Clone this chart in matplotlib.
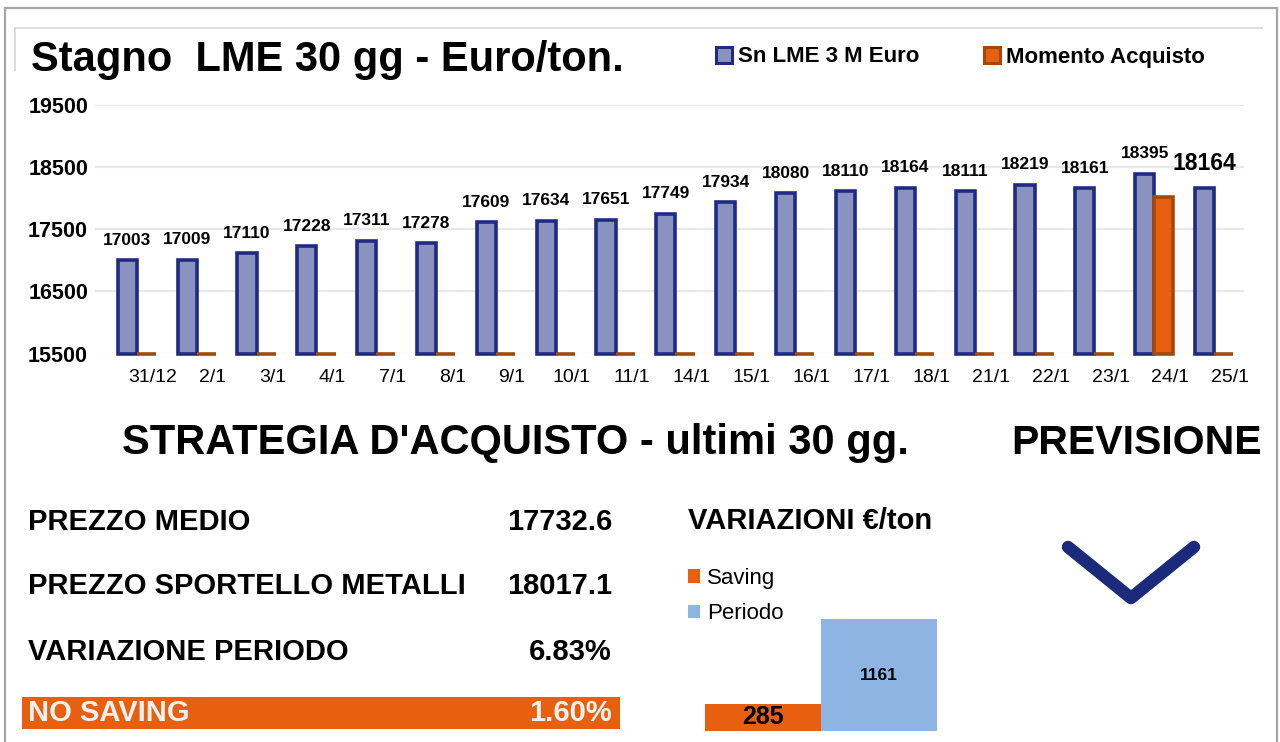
import numpy as np
import matplotlib
matplotlib.use("Agg")
import matplotlib.pyplot as plt
from matplotlib.patches import Patch, Rectangle
from matplotlib.lines import Line2D

plt.rcParams['font.family'] = ['Liberation Sans', 'DejaVu Sans']

# data
days = ['31/12', '2/1', '3/1', '4/1', '7/1', '8/1', '9/1', '10/1', '11/1', '14/1',
        '15/1', '16/1', '17/1', '18/1', '21/1', '22/1', '23/1', '24/1', '25/1']
sn_lme = [17003, 17009, 17110, 17228, 17311, 17278, 17609, 17634, 17651, 17749,
          17934, 18080, 18110, 18164, 18111, 18219, 18161, 18395, 18164]
momento = [0, 0, 0, 0, 0, 0, 0, 0, 0, 0, 0, 0, 0, 0, 0, 0, 0, 18017.1, 0]
y_ticks = [15500, 16500, 17500, 18500, 19500]

stat_labels = ['PREZZO MEDIO', 'PREZZO SPORTELLO METALLI', 'VARIAZIONE PERIODO']
stat_values = ['17732.6', '18017.1', '6.83%']
saving_label, saving_value = 'NO SAVING', '1.60%'

var_names = ['Saving', 'Periodo']
var_values = [285, 1161]

BLUE_FILL = '#8A92C0'
NAVY = '#1F2A85'
ORANGE = '#E8600F'
BROWN = '#A04A0C'
LIGHT_BLUE = '#8EB4E3'

W, H = 1280, 742
fig = plt.figure(figsize=(W / 100, H / 100), dpi=100)
fig.patch.set_facecolor('white')


def fx(px):
    return px / W


def fy(py):
    return 1 - py / H


# ---- main chart ----
ymin = y_ticks[0]
ax = fig.add_axes([fx(95), fy(353.5), fx(1244 - 95), (353.5 - 105) / H])
x = np.arange(len(days))
bw = 0.32
sn_h = [v - ymin for v in sn_lme]
mo_h = [max(v - ymin, 0) for v in momento]
ax.bar(x - bw / 2, sn_h, bw, bottom=ymin, color=BLUE_FILL, edgecolor=NAVY,
       linewidth=2.6, zorder=3, clip_on=False)
ax.bar(x + bw / 2, mo_h, bw, bottom=ymin, color=ORANGE, edgecolor=BROWN,
       linewidth=2.6, zorder=3, clip_on=False)

for i, v in enumerate(sn_lme):
    last = i == len(sn_lme) - 1
    ax.annotate(str(v), (x[i] - bw / 2, v), xytext=(0, 9), textcoords='offset points',
                ha='center', va='bottom', fontsize=16.5 if last else 12.5,
                fontweight='bold')

ax.set_xlim(-0.7, 18.5)
ax.set_ylim(ymin, y_ticks[-1])
ax.set_yticks(y_ticks)
ax.set_yticklabels([str(t) for t in y_ticks], fontsize=15.5, fontweight='bold')
# date labels sit a little right of each group in the original
ax.set_xticks(x + 0.27)
ax.set_xticklabels(days, fontsize=14)
ax.tick_params(axis='both', length=0)
ax.tick_params(axis='x', pad=11)
ax.tick_params(axis='y', pad=5)
ax.grid(axis='y', color='#E8E8E8', linewidth=1.6, zorder=0)
for s in ax.spines.values():
    s.set_visible(False)

fig.text(fx(31), fy(60), 'Stagno  LME 30 gg - Euro/ton.', fontsize=30,
         fontweight='bold', va='center', ha='left')

leg_handles = [Patch(facecolor=BLUE_FILL, edgecolor=NAVY, linewidth=2.2, label='Sn LME 3 M Euro'),
               Patch(facecolor=ORANGE, edgecolor=BROWN, linewidth=2.2, label='Momento Acquisto')]
fig.legend(handles=leg_handles, loc='center left', bbox_to_anchor=(fx(716), fy(57)),
           ncol=2, frameon=False, prop={'weight': 'bold', 'size': 16},
           handlelength=0.7, handleheight=0.7, handletextpad=0.3, columnspacing=2.9,
           borderaxespad=0, borderpad=0)

# ---- lower panel ----
fig.text(fx(515), fy(443), "STRATEGIA D'ACQUISTO - ultimi 30 gg.", fontsize=30,
         fontweight='bold', ha='center', va='center')
fig.text(fx(1262), fy(443), 'PREVISIONE', fontsize=29.5, fontweight='bold',
         ha='right', va='center')

row_y = [522, 586, 652]
for lab, val, yy in zip(stat_labels, stat_values, row_y):
    fig.text(fx(28), fy(yy), lab, fontsize=21, fontweight='bold', va='center')
    fig.text(fx(612), fy(yy), val, fontsize=21, fontweight='bold', va='center', ha='right')

fig.add_artist(Rectangle((fx(22), fy(729)), fx(620 - 22), (729 - 697) / H,
                         transform=fig.transFigure, facecolor=ORANGE, edgecolor='none'))
fig.text(fx(28), fy(713), saving_label, fontsize=21, fontweight='bold', va='center',
         color='#F2F2F2')
fig.text(fx(612), fy(713), saving_value, fontsize=21, fontweight='bold', va='center',
         ha='right', color='#F2F2F2')

fig.text(fx(688), fy(521), 'VARIAZIONI €/ton', fontsize=21, fontweight='bold', va='center')

ax2 = fig.add_axes([fx(705), fy(731), fx(937 - 705), (731 - 619) / H])
ax2.bar([0, 1], var_values, 1.0, color=[ORANGE, LIGHT_BLUE], edgecolor='none')
ax2.set_xlim(-0.5, 1.5)
ax2.set_ylim(0, var_values[1])
ax2.axis('off')
ax2.text(0, var_values[0] / 2, str(var_values[0]), ha='center', va='center',
         fontsize=18, fontweight='bold')
ax2.text(1, var_values[1] / 2, str(var_values[1]), ha='center', va='center',
         fontsize=12.5, fontweight='bold')

small_handles = [Patch(facecolor=ORANGE, label=var_names[0]),
                 Patch(facecolor=LIGHT_BLUE, label=var_names[1])]
fig.legend(handles=small_handles, loc='upper left', bbox_to_anchor=(fx(688), fy(568)),
           frameon=False, fontsize=16, handlelength=0.55, handleheight=0.55,
           handletextpad=0.3, labelspacing=0.65, borderaxespad=0, borderpad=0)

# down chevron
fig.add_artist(Line2D([fx(1068), fx(1131), fx(1194)], [fy(547), fy(598), fy(547)],
                      transform=fig.transFigure, color='#1B2A7B', linewidth=9,
                      solid_capstyle='round', solid_joinstyle='round'))

# frames
frame_kw = dict(transform=fig.transFigure, color='#A6A6A6', linewidth=1.6)
fig.add_artist(Line2D([fx(5), fx(1277)], [fy(8), fy(8)], **frame_kw))
fig.add_artist(Line2D([fx(5), fx(5)], [fy(8), fy(742)], **frame_kw))
fig.add_artist(Line2D([fx(1277), fx(1277)], [fy(8), fy(742)], **frame_kw))
inner_kw = dict(transform=fig.transFigure, color='#DDDDDD', linewidth=1.4)
fig.add_artist(Line2D([fx(15), fx(1262)], [fy(28), fy(28)], **inner_kw))
fig.add_artist(Line2D([fx(15), fx(15)], [fy(28), fy(70)], **inner_kw))

fig.savefig('out.png', dpi=100)
